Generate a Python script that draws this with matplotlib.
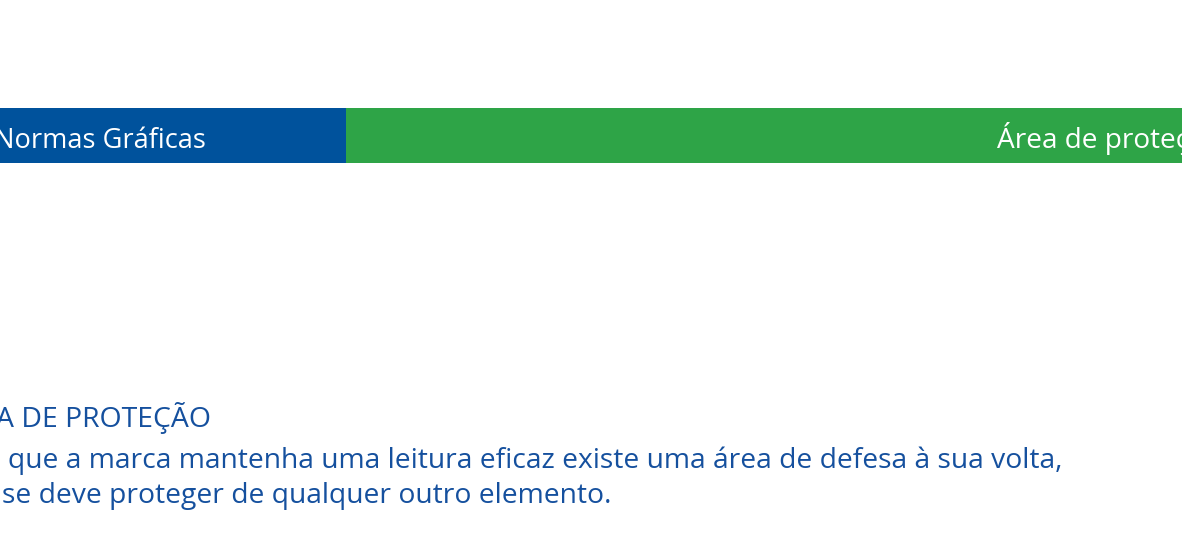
import matplotlib.pyplot as plt
from matplotlib.patches import Rectangle

W, H = 1182, 541

# header bar pieces: (x start, x end, colour) in pixels
bar_starts = [0, 346]
bar_ends = [346, 1182]
bar_colors = ['#00529c', '#2ea447']
bar_top, bar_bottom = 108, 163

header_texts = ['Normas Gráficas', 'Área de proteção']
header_x = [-6, 997]
header_size = [19.6, 20.2]

body_lines = ['A DE PROTEÇÃO',
              'que a marca mantenha uma leitura eficaz existe uma área de defesa à sua volta,',
              'se deve proteger de qualquer outro elemento.']
body_x = [-4, 8, 2]
body_baseline = [427, 468, 503]
body_size = [20.4, 20.35, 20.35]

plt.rcParams['font.family'] = ['Open Sans', 'DejaVu Sans']

fig = plt.figure(figsize=(W/100, H/100), dpi=100)
ax = fig.add_axes([0, 0, 1, 1])
ax.set_xlim(0, W)
ax.set_ylim(H, 0)
ax.axis('off')

for x0, x1, c in zip(bar_starts, bar_ends, bar_colors):
    ax.add_patch(Rectangle((x0, bar_top), x1 - x0, bar_bottom - bar_top, color=c, lw=0))

for t, x, s in zip(header_texts, header_x, header_size):
    ax.text(x, 148, t, color='white', fontsize=s, va='baseline', ha='left')

for t, x, y, s in zip(body_lines, body_x, body_baseline, body_size):
    ax.text(x, y, t, color='#15509e', fontsize=s, va='baseline', ha='left')

fig.savefig('out.png', dpi=100, facecolor='white')
